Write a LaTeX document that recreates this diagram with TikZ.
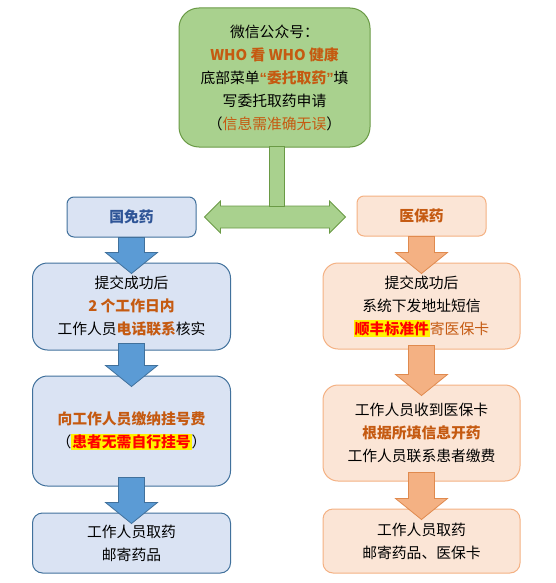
\documentclass[tikz,border=0pt]{standalone}
\usepackage{fontspec}
\setmainfont{Noto Sans CJK SC}
\newfontfamily\latn{Liberation Sans}
\usetikzlibrary{positioning, calc}
\definecolor{grfill}{HTML}{A9D18E}
\definecolor{grline}{HTML}{6A9A45}
\definecolor{blfill}{HTML}{DAE3F3}
\definecolor{blline}{HTML}{41719C}
\definecolor{blarr}{HTML}{5B9BD5}
\definecolor{bltext}{HTML}{2F5597}
\definecolor{orfill}{HTML}{FBE5D6}
\definecolor{orline}{HTML}{F4B183}
\definecolor{orarr}{HTML}{F4B183}
\definecolor{orarrline}{HTML}{E08A4E}
\definecolor{ortext}{HTML}{C55A11}
\newcommand{\org}[1]{\textcolor{ortext}{\bfseries #1}}
\newcommand{\hilite}[1]{{\setlength{\fboxsep}{1pt}\colorbox{yellow}{\textcolor{red}{\bfseries #1}}}}
\newcommand{\blkdown}[4]{%
	\path (#2.south) ++(0,-#4) coordinate (s) ($(s |- #3.north)+(0,11)$) coordinate (t);
	\draw[#1] ($(s)+(-13,0)$) -- ($(t)+(-13,-21)$) -- ($(t)+(-26,-21)$) -- (t)
		-- ($(t)+(26,-21)$) -- ($(t)+(13,-21)$) -- ($(s)+(13,0)$) -- cycle;
}
\tikzset{%
	txt/.style={align=center, inner sep=0pt, font=\fontsize{14.8}{23}\selectfont},
	start/.style={txt, draw=grline, fill=grfill, line width=1pt, rounded corners=20pt,
		minimum width=191pt, minimum height=139pt},
	blhead/.style={txt, draw=blline, fill=blfill, line width=1pt, rounded corners=7pt,
		minimum width=129pt, minimum height=40pt, text=bltext, font=\fontsize{14.8}{23}\selectfont\bfseries},
	orhead/.style={txt, draw=orline, fill=orfill, line width=1pt, rounded corners=7pt,
		minimum width=129pt, minimum height=40pt, text=ortext, font=\fontsize{14.8}{23}\selectfont\bfseries},
	blbox/.style={txt, draw=blline, fill=blfill, line width=1pt, rounded corners=15pt, minimum width=198pt},
	orbox/.style={txt, draw=orline, fill=orfill, line width=1pt, rounded corners=15pt, minimum width=197pt},
	blarrow/.style={draw=blline, fill=blarr, line width=0.8pt},
	orarrow/.style={draw=orarrline, fill=orarr, line width=0.8pt},
	grarrow/.style={draw=grline, fill=grfill, line width=0.8pt}
}
\begin{document}
\begin{tikzpicture}[x=1pt, y=-1pt]
	\useasboundingbox (0,0) rectangle (556,583);
	\node[start] (top) at (274.5,77.5) {微信公众号：\\ \org{WHO 看 WHO 健康}\\ 底部菜单\org{{\latn“}委托取药{\latn”}}填\\ 写委托取药申请\\ （\textcolor{ortext}{信息需准确无误}）};

	\node[blhead] (l0) at (131.5,217) {国免药};
	\node[blbox, minimum height=87pt, below=25pt of l0] (l1) {提交成功后\\ \org{2 个工作日内}\\ 工作人员\org{电话联系}核实};
	\node[blbox, minimum height=110pt, below=25pt of l1] (l2) {\org{向工作人员缴纳挂号费}\\ （\hilite{患者无需自行挂号}）};
	\node[blbox, minimum height=60pt, rounded corners=10pt, below=26pt of l2] (l3) {工作人员取药\\ 邮寄药品};

	\node[orhead] (r0) at (421.5,216) {医保药};
	\node[orbox, minimum height=86pt, below=26pt of r0] (r1) {提交成功后\\ 系统下发地址短信\\ \hilite{顺丰标准件}\textcolor{ortext}{寄医保卡}};
	\node[orbox, minimum height=96pt, below=35pt of r1] (r2) {工作人员收到医保卡\\ \org{根据所填信息开药}\\ 工作人员联系患者缴费};
	\node[orbox, minimum height=64pt, rounded corners=10pt, below=27pt of r2] (r3) {工作人员取药\\ 邮寄药品、医保卡};

	\blkdown{blarrow}{l0}{l1}{0}
	\blkdown{blarrow}{l1}{l2}{7}
	\blkdown{blarrow}{l2}{l3}{9}
	\blkdown{orarrow}{r0}{r1}{0}
	\blkdown{orarrow}{r1}{r2}{4}
	\blkdown{orarrow}{r2}{r3}{9}

	\coordinate (dl) at ($(l0.east)+(8,0)$);
	\coordinate (dr) at ($(r0.west |- dl)+(-11,0)$);
	\draw[grarrow] (dl) -- ($(dl)+(16,-16)$) -- ($(dl)+(16,-11)$) -- ($(dr)+(-16,-11)$) -- ($(dr)+(-16,-16)$)
		-- (dr) -- ($(dr)+(-16,16)$) -- ($(dr)+(-16,11)$) -- ($(dl)+(16,11)$) -- ($(dl)+(16,16)$) -- cycle;
	\draw[grarrow] ($(top.south)+(-5.5,-1)$) rectangle ($(top.south |- dl)+(9.5,-11)$);
\end{tikzpicture}
\end{document}
